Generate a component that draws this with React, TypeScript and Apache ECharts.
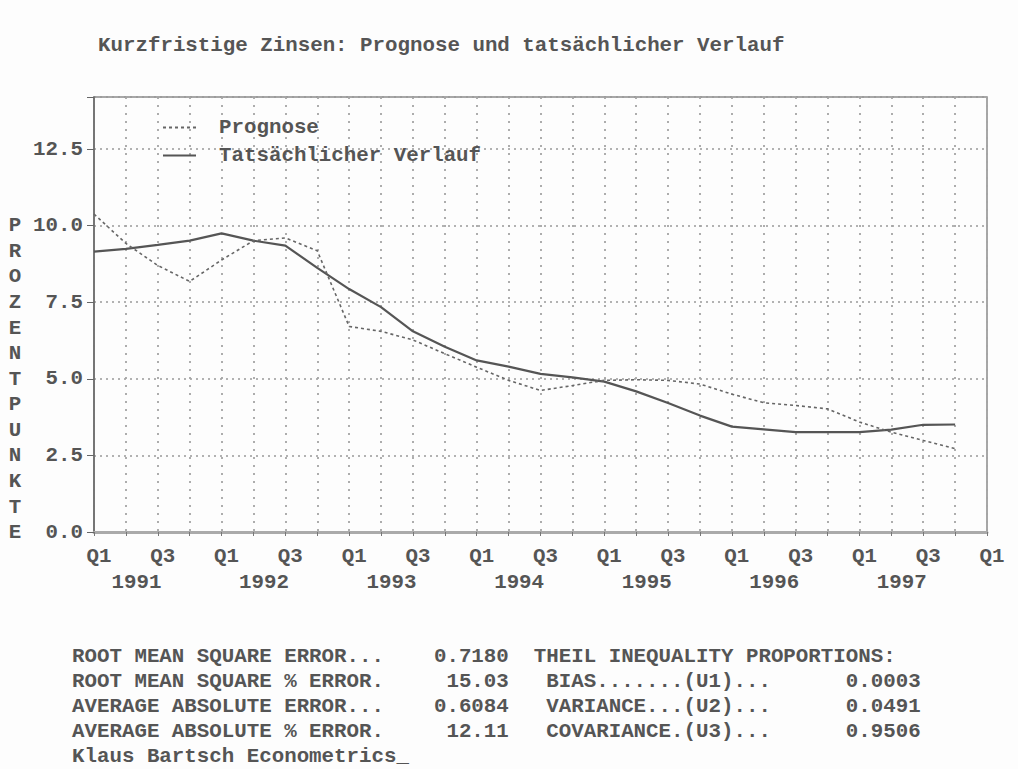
import React, { useEffect, useRef } from "react";
import * as echarts from "echarts";

const quarterLabels = ["Q1", "", "Q3", ""];
const years = ["1991", "1992", "1993", "1994", "1995", "1996", "1997"];
const yTicks = [0, 2.5, 5, 7.5, 10, 12.5];

// Q1 1991 ... Q4 1997
const forecast = [
  10.38, 9.42, 8.7, 8.18, 8.88, 9.51, 9.6, 9.18,
  6.71, 6.55, 6.27, 5.82, 5.38, 4.95, 4.62, 4.78,
  4.95, 4.97, 4.95, 4.83, 4.5, 4.22, 4.13, 4.02,
  3.59, 3.26, 2.99, 2.72,
];
const actual = [
  9.15, 9.24, 9.37, 9.51, 9.75, 9.51, 9.35, 8.62,
  7.93, 7.34, 6.55, 6.05, 5.6, 5.4, 5.16, 5.05,
  4.91, 4.59, 4.21, 3.8, 3.44, 3.35, 3.26, 3.26,
  3.26, 3.34, 3.5, 3.51,
];

const title = "Kurzfristige Zinsen: Prognose und tatsächlicher Verlauf";
const yName = "PROZENTPUNKTE";
const statLines = [
  "ROOT MEAN SQUARE ERROR...    0.7180  THEIL INEQUALITY PROPORTIONS:",
  "ROOT MEAN SQUARE % ERROR.     15.03   BIAS.......(U1)...      0.0003",
  "AVERAGE ABSOLUTE ERROR...    0.6084   VARIANCE...(U2)...      0.0491",
  "AVERAGE ABSOLUTE % ERROR.     12.11   COVARIANCE.(U3)...      0.9506",
  "Klaus Bartsch Econometrics_",
];

const FONT = "'Liberation Mono', 'DejaVu Sans Mono', monospace";
const FS = 20.8;
const FW = "bold";
const TXT = "#555";

export default function App() {
  const ref = useRef<HTMLDivElement>(null);
  useEffect(() => {
    if (!ref.current) return;
    const chart = echarts.init(ref.current, undefined, { renderer: "svg" });
    const graphics: any[] = [
      {
        type: "text",
        x: 98,
        y: 45,
        style: { text: title, fontFamily: FONT, fontSize: FS, fontWeight: FW, fill: TXT, verticalAlign: "middle", align: "left" },
      },
      {
        type: "text",
        x: 15,
        y: 225.7 - 12.8,
        style: {
          text: yName.split("").join("\n"),
          fontFamily: FONT,
          fontSize: FS,
          fontWeight: FW,
          lineHeight: 25.58,
          fill: TXT,
          verticalAlign: "top",
          align: "center",
        },
      },
    ];
    statLines.forEach((s, i) => {
      graphics.push({
        type: "text",
        x: 72,
        y: 656 + i * 25.2,
        style: { text: s, fontFamily: FONT, fontSize: FS, fontWeight: FW, fill: TXT, verticalAlign: "middle", align: "left" },
      });
    });
    chart.setOption({
      animation: false,
      backgroundColor: "#fdfdfd",
      grid: {
        left: 94,
        top: 97,
        right: 31,
        bottom: 237,
        show: true,
        borderColor: "#8a8a8a",
        borderWidth: 1.5,
      },
      legend: {
        orient: "vertical",
        left: 157,
        top: 112,
        itemWidth: 33,
        itemHeight: 20,
        itemGap: 7,
        itemStyle: { opacity: 0 },
        textStyle: { fontFamily: FONT, fontSize: FS, fontWeight: FW, color: TXT, padding: [0, 0, 0, 18], lineHeight: 20 },
        data: ["Prognose", "Tatsächlicher Verlauf"],
      },
      xAxis: [
        {
          type: "value",
          min: 0,
          max: 28,
          interval: 1,
          axisLine: { show: true, onZero: false, lineStyle: { color: "#aaa", width: 3 } },
          axisTick: { show: true, length: 4, lineStyle: { color: "#777" } },
          axisLabel: {
            margin: 14,
            padding: [0, 0, 0, 10],
            fontFamily: FONT,
            fontSize: FS,
            fontWeight: FW,
            color: TXT,
            formatter: (v: number) => quarterLabels[Math.round(v) % 4],
          },
          splitLine: { show: true, lineStyle: { color: "#a5a5a5", type: [2, 6], width: 1.8 } },
        },
        {
          type: "value",
          position: "bottom",
          min: 0,
          max: 28,
          interval: 1,
          axisLine: { show: false },
          axisTick: { show: false },
          splitLine: { show: false },
          axisLabel: {
            margin: 40,
            padding: [0, 0, 0, 21],
            fontFamily: FONT,
            fontSize: FS,
            fontWeight: FW,
            color: TXT,
            formatter: (v: number) => {
              const k = Math.round(v);
              return k % 4 === 1 ? years[Math.floor(k / 4)] || "" : "";
            },
          },
        },
      ],
      yAxis: {
        type: "value",
        min: 0,
        max: 14.2,
        interval: 2.5,
        axisLine: { show: true, lineStyle: { color: "#666", width: 1.5 } },
        axisTick: { show: true, length: 7, lineStyle: { color: "#666" } },
        axisLabel: {
          margin: 11,
          fontFamily: FONT,
          fontSize: FS,
          fontWeight: FW,
          color: TXT,
          formatter: (v: number) => (yTicks.some((t) => Math.abs(t - v) < 1e-6) ? v.toFixed(1) : ""),
        },
        splitLine: { show: true, lineStyle: { color: "#999", type: [2, 4], width: 1.5 } },
      },
      series: [
        {
          name: "Prognose",
          type: "line",
          symbol: "none",
          data: forecast.map((v, i) => [i, v]),
          lineStyle: { color: "#666", width: 1.6, type: [3, 3] },
          itemStyle: { color: "#666" },
          z: 3,
        },
        {
          name: "Tatsächlicher Verlauf",
          type: "line",
          symbol: "none",
          data: actual.map((v, i) => [i, v]),
          lineStyle: { color: "#555", width: 2.2 },
          itemStyle: { color: "#555" },
          z: 2,
        },
      ],
      graphic: graphics,
    });
    return () => chart.dispose();
  }, []);
  return (
    <div
      ref={ref}
      style={{ position: "absolute", left: 0, top: 0, width: 1018, height: 769 }}
    />
  );
}
